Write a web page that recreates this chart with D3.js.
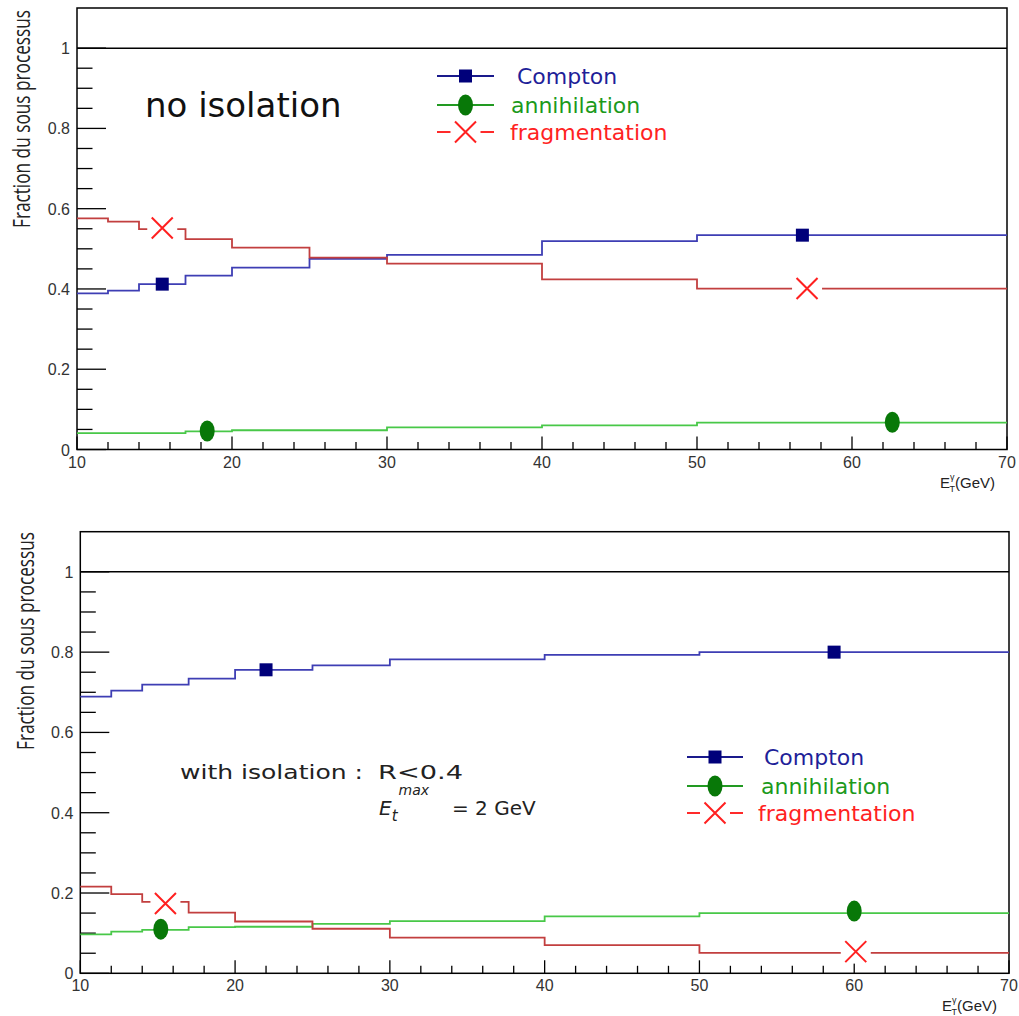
<!DOCTYPE html>
<html><head><meta charset="utf-8">
<script src="https://cdn.jsdelivr.net/npm/d3@7"></script>
<style>body{margin:0;background:#fff}</style>
</head><body>
<svg id="chart" width="1019" height="1016"></svg>
<script>
// ---------- data ----------
const binEdges = [10, 12, 14, 17, 20, 25, 30, 40, 50, 70];
const seriesNames = ["Compton", "annihilation", "fragmentation"];

// panel 1 : no isolation
const comptonNoIso = [0.389, 0.396, 0.412, 0.433, 0.453, 0.475, 0.485, 0.519, 0.534];
const annihNoIso   = [0.041, 0.041, 0.041, 0.045, 0.048, 0.048, 0.055, 0.060, 0.067];
const fragNoIso    = [0.576, 0.568, 0.549, 0.524, 0.503, 0.478, 0.463, 0.424, 0.401];
const comptonMarkNoIso = [[15.5, 0.412], [56.8, 0.534]];
const annihMarkNoIso   = [[18.4, 0.046], [62.6, 0.068]];
const fragMarkNoIso    = [[15.5, 0.552], [57.1, 0.401]];

// panel 2 : with isolation
const comptonIso = [0.689, 0.704, 0.719, 0.734, 0.756, 0.767, 0.782, 0.793, 0.800];
const annihIso   = [0.097, 0.104, 0.108, 0.115, 0.116, 0.123, 0.130, 0.142, 0.150];
const fragIso    = [0.216, 0.197, 0.178, 0.151, 0.129, 0.111, 0.089, 0.070, 0.051];
const comptonMarkIso = [[22.0, 0.756], [58.7, 0.800]];
const annihMarkIso   = [[15.2, 0.110], [60.0, 0.155]];
const fragMarkIso    = [[15.5, 0.174], [60.1, 0.054]];

const xDomain = [10, 70];
const yDomain = [0, 1.1];
const xTickValues = [10, 20, 30, 40, 50, 60, 70];
const yTickValues = [0, 0.2, 0.4, 0.6, 0.8, 1];
const yTickLabels = ["0", "0.2", "0.4", "0.6", "0.8", "1"];
const referenceLine = 1;
const yTitle = "Fraction du sous processus";
const xTitle = {main: "E", sup: "γ", sub: "T", unit: "(GeV)"};
const panelLabelTop = "no isolation";
const isoLabel = "with isolation :";
const isoCut = "R<0.4";
const isoEnergy = {main: "E", sub: "t", sup: "max", rest: "= 2 GeV"};

// ---------- styles ----------
const lineColors = {Compton: "#3e3eb4", annihilation: "#48c848", fragmentation: "#c23f3f"};
const legendLineColors = {Compton: "#1a1a8c", annihilation: "#229a22", fragmentation: "#ff2a2a"};
const textColors = {Compton: "#1f1f99", annihilation: "#1c9a1c", fragmentation: "#ff2222"};
const markColor = {Compton: "#00007a", annihilation: "#087808", fragmentation: "#ff2020"};

const svg = d3.select("#chart");

const panels = [
  {left: 77, right: 1007, top: 8, bottom: 449.5,
   values: {Compton: comptonNoIso, annihilation: annihNoIso, fragmentation: fragNoIso},
   marks: {Compton: comptonMarkNoIso, annihilation: annihMarkNoIso, fragmentation: fragMarkNoIso},
   legend: {x0: 437, x1: 494, ys: [76, 105, 132], tx: [517, 511, 510]},
   yTitleX: 30, yTitleY: 228, yTitleLen: 218},
  {left: 80.3, right: 1009, top: 531.7, bottom: 973.3,
   values: {Compton: comptonIso, annihilation: annihIso, fragmentation: fragIso},
   marks: {Compton: comptonMarkIso, annihilation: annihMarkIso, fragmentation: fragMarkIso},
   legend: {x0: 687, x1: 743, ys: [757, 786, 813], tx: [764, 761, 758]},
   yTitleX: 34, yTitleY: 750, yTitleLen: 218}
];

function drawMarker(g, type, cx, cy) {
  if (type === "Compton") {
    g.append("rect").attr("x", cx - 6.5).attr("y", cy - 6.5).attr("width", 13).attr("height", 13)
      .attr("fill", markColor.Compton);
  } else if (type === "annihilation") {
    g.append("ellipse").attr("cx", cx).attr("cy", cy).attr("rx", 7.5).attr("ry", 10.5)
      .attr("fill", markColor.annihilation);
  } else {
    g.append("rect").attr("x", cx - 15).attr("y", cy - 12).attr("width", 30).attr("height", 24)
      .attr("fill", "#fff");
    const h = 10.5;
    g.append("path").attr("d", `M${cx-h},${cy-h}L${cx+h},${cy+h}M${cx-h},${cy+h}L${cx+h},${cy-h}`)
      .attr("stroke", markColor.fragmentation).attr("stroke-width", 2).attr("fill", "none");
  }
}

panels.forEach((p, pi) => {
  const g = svg.append("g");
  const x = d3.scaleLinear().domain(xDomain).range([p.left, p.right]);
  const y = d3.scaleLinear().domain(yDomain).range([p.bottom, p.top]);

  // frame
  g.append("rect").attr("x", p.left).attr("y", p.top)
    .attr("width", p.right - p.left).attr("height", p.bottom - p.top)
    .attr("fill", "none").attr("stroke", "#000").attr("stroke-width", 1.5);

  // x ticks (inside, upward)
  const xMinor = d3.range(xDomain[0], xDomain[1] + 0.001, 2);
  g.append("g").selectAll("line").data(xMinor).join("line")
    .attr("x1", d => x(d)).attr("x2", d => x(d))
    .attr("y1", p.bottom).attr("y2", d => p.bottom - (d % 10 === 0 ? 13 : 7.5))
    .attr("stroke", "#000").attr("stroke-width", 1.3);
  // y ticks (inside, rightward)
  const yMinor = d3.range(0, 21).map(i => i * 0.05);
  g.append("g").selectAll("line").data(yMinor).join("line")
    .attr("y1", d => y(d)).attr("y2", d => y(d))
    .attr("x1", p.left).attr("x2", (d, i) => p.left + (i % 4 === 0 ? 29 : 15.5))
    .attr("stroke", "#000").attr("stroke-width", 1.3);

  // axis labels
  g.append("g").selectAll("text").data(xTickValues).join("text")
    .attr("x", d => x(d)).attr("y", p.bottom + 18)
    .attr("text-anchor", "middle").attr("font-family", "Liberation Sans, Arial, sans-serif")
    .attr("font-size", 16).attr("fill", "#333").text(d => d);
  g.append("g").selectAll("text").data(yTickValues).join("text")
    .attr("x", p.left - 7).attr("y", d => y(d) + 6)
    .attr("text-anchor", "end").attr("font-family", "Liberation Sans, Arial, sans-serif")
    .attr("font-size", 16).attr("fill", "#333").text((d, i) => yTickLabels[i]);

  // y title
  g.append("text").attr("transform", `translate(${p.yTitleX},${p.yTitleY}) rotate(-90)`)
    .attr("font-family", "Open Sans, sans-serif").attr("font-size", 23).attr("fill", "#222")
    .attr("textLength", p.yTitleLen).attr("lengthAdjust", "spacingAndGlyphs")
    .text(yTitle);

  // x title
  const xt = g.append("text").attr("x", p.right - 67).attr("y", p.bottom + 38)
    .attr("font-family", "Liberation Sans, Arial, sans-serif").attr("font-size", 15).attr("fill", "#222");
  xt.append("tspan").text(xTitle.main);
  xt.append("tspan").attr("font-size", 9).attr("dy", -8).text(xTitle.sup);
  xt.append("tspan").attr("font-size", 9).attr("dx", -5).attr("dy", 12).text(xTitle.sub);
  xt.append("tspan").attr("dy", -4).text(xTitle.unit);

  // reference line at 1
  g.append("line").attr("x1", p.left).attr("x2", p.right)
    .attr("y1", y(referenceLine)).attr("y2", y(referenceLine))
    .attr("stroke", "#000").attr("stroke-width", 1.5);

  // histograms
  const line = d3.line().x(d => x(d[0])).y(d => y(d[1])).curve(d3.curveStepAfter);
  ["annihilation", "Compton", "fragmentation"].forEach(name => {
    const vals = p.values[name];
    const pts = vals.map((v, i) => [binEdges[i], v]);
    pts.push([binEdges[binEdges.length - 1], vals[vals.length - 1]]);
    g.append("path").datum(pts).attr("d", line)
      .attr("fill", "none").attr("stroke", lineColors[name]).attr("stroke-width", 1.8);
  });

  // markers
  seriesNames.forEach(name => {
    p.marks[name].forEach(m => drawMarker(g, name, x(m[0]), y(m[1])));
  });

  // legend
  const L = p.legend;
  seriesNames.forEach((name, i) => {
    const ly = L.ys[i];
    g.append("line").attr("x1", L.x0).attr("x2", L.x1).attr("y1", ly).attr("y2", ly)
      .attr("stroke", legendLineColors[name]).attr("stroke-width", 2);
    drawMarker(g, name, (L.x0 + L.x1) / 2, ly);
    g.append("text").attr("x", L.tx[i]).attr("y", ly + 8)
      .attr("font-family", "DejaVu Sans, sans-serif").attr("font-size", 22)
      .attr("fill", textColors[name]).text(name);
  });
});

// annotations
svg.append("text").attr("x", 145).attr("y", 117)
  .attr("font-family", "DejaVu Sans, sans-serif").attr("font-size", 34).attr("fill", "#111")
  .text(panelLabelTop);

svg.append("text").attr("x", 180).attr("y", 779)
  .attr("font-family", "DejaVu Sans, sans-serif").attr("font-size", 20).attr("fill", "#222")
  .attr("textLength", 183).attr("lengthAdjust", "spacingAndGlyphs")
  .text(isoLabel);
svg.append("text").attr("x", 378).attr("y", 779)
  .attr("font-family", "DejaVu Sans, sans-serif").attr("font-size", 20).attr("fill", "#222")
  .attr("textLength", 85).attr("lengthAdjust", "spacingAndGlyphs")
  .text(isoCut);
const et = svg.append("text").attr("x", 379).attr("y", 815)
  .attr("font-family", "DejaVu Sans, sans-serif").attr("font-size", 20).attr("fill", "#222");
et.append("tspan").attr("font-style", "italic").text(isoEnergy.main);
et.append("tspan").attr("font-style", "italic").attr("font-size", 15).attr("dy", 6).text(isoEnergy.sub);
et.append("tspan").attr("font-style", "italic").attr("font-size", 14).attr("dx", 1).attr("dy", -26).text(isoEnergy.sup);
et.append("tspan").attr("x", 452).attr("dy", 20).text(isoEnergy.rest);
</script>
</body></html>
